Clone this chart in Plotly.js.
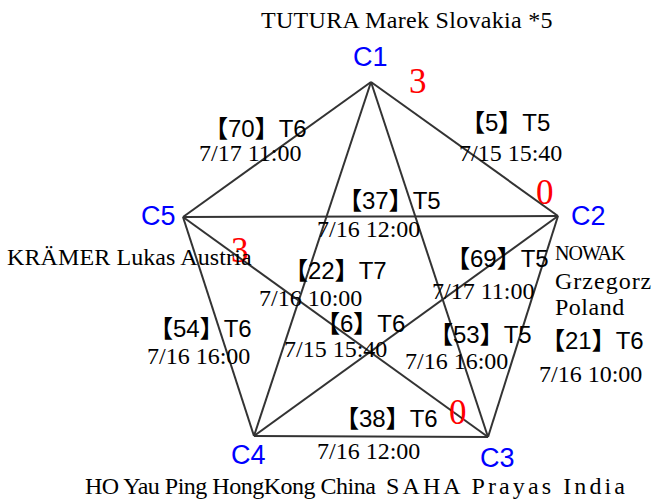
<!DOCTYPE html>
<html>
<head>
<meta charset="utf-8">
<script src="https://cdn.plot.ly/plotly-3.0.1.min.js"></script>
<style>html,body{margin:0;padding:0;background:#fff;}#chart{width:654px;height:500px;}</style>
</head>
<body>
<div id="chart"></div>
<script>
// ---- data ----
var nodeLabels = ["C1", "C2", "C3", "C4", "C5"];
var nodeX = [371, 558, 488, 254, 183];
var nodeY = [82, 216, 437, 436, 217];
var playerNames = ["TUTURA Marek Slovakia *5", "NOWAK\nGrzegorz\nPoland", "SAHA Prayas India", "HO Yau Ping HongKong China", "KRÄMER Lukas Austria"];
var scores = ["3", "0", "0", "", "3"];

var edgeFrom = [0, 0, 4, 0, 1, 4, 4, 0, 1, 3];
var edgeTo   = [4, 1, 1, 3, 3, 2, 3, 2, 2, 2];
var matchNo  = ["70", "5", "37", "22", "69", "6", "54", "53", "21", "38"];
var rounds   = ["T6", "T5", "T5", "T7", "T5", "T6", "T6", "T5", "T6", "T6"];
var times    = ["7/17 11:00", "7/15 15:40", "7/16 12:00", "7/16 10:00", "7/17 11:00", "7/15 15:40", "7/16 16:00", "7/16 16:00", "7/16 10:00", "7/16 12:00"];

// ---- layout positions (pixel-like coordinates of the plot area) ----
var matchPos = [[255,128],[505,122],[389,200],[335,270],[497,258],[360,323],[200,328],[480,334],[592,340],[386,418]];
var timePos  = [[250,153],[510,153],[368,229],[310,298],[483,291],[335,349],[198,356],[456,361],[590,374],[368,451]];
var nodeLabelPos = [[370,57],[588,216],[497,458],[248,455],[158,216]];
var scorePos = [[418,81],[545,192],[458,412],null,[240,250]];
var namePos = [[407,20,"center"],[554,null,"left"],[507,486,"center"],[230,486,"center"],[129,257,"center"]];
var nameSpacing = [[0.3], [-1, 1, 0.5], [3.1], [-0.5], [0.1]];
var nameSize = [[24], [20, 24, 24], [24], [24], [24]];
var multiLineY = [253, 281, 307];

var traces = [];
for (var i = 0; i < edgeFrom.length; i++) {
  traces.push({
    type: "scatter", mode: "lines", hoverinfo: "skip", showlegend: false,
    x: [nodeX[edgeFrom[i]], nodeX[edgeTo[i]]],
    y: [nodeY[edgeFrom[i]], nodeY[edgeTo[i]]],
    line: {color: "#333333", width: 2}
  });
}

var ann = [];
function add(x, y, text, font, xanchor) {
  ann.push({x: x, y: y, xref: "x", yref: "y", text: text, showarrow: false,
            xanchor: xanchor || "center", yanchor: "middle", font: font, borderpad: 0});
}
var fBracket = {family: "Liberation Sans, Arial, Noto Sans CJK SC", size: 24, color: "#000"};
var fSerif = {family: "Liberation Serif, Times New Roman, serif", size: 24, color: "#000"};
var fNode = {family: "Liberation Sans, Arial", size: 27, color: "#0000ff"};
var fScore = {family: "Liberation Serif, serif", size: 35, color: "#ff0000"};

function spaced(t, px) {
  return '<span style="letter-spacing:' + px + 'px">' + t + '</span>';
}
function serif(size) {
  return {family: fSerif.family, size: size, color: "#000"};
}

for (var i = 0; i < matchNo.length; i++) {
  add(matchPos[i][0], matchPos[i][1], "<b>【</b>" + matchNo[i] + "<b>】</b>" + rounds[i], fBracket);
  add(timePos[i][0], timePos[i][1], times[i], fSerif);
}
for (var k = 0; k < nodeLabels.length; k++) {
  add(nodeLabelPos[k][0], nodeLabelPos[k][1], nodeLabels[k], fNode);
  if (scores[k] !== "") add(scorePos[k][0], scorePos[k][1], scores[k], fScore);
  var parts = playerNames[k].split("\n");
  if (parts.length === 1) {
    add(namePos[k][0], namePos[k][1], spaced(parts[0], nameSpacing[k][0]), serif(nameSize[k][0]), namePos[k][2]);
  } else {
    for (var p = 0; p < parts.length; p++)
      add(namePos[k][0], multiLineY[p], spaced(parts[p], nameSpacing[k][p]), serif(nameSize[k][p]), "left");
  }
}

var layout = {
  width: 654, height: 500,
  margin: {l: 0, r: 0, t: 0, b: 0},
  paper_bgcolor: "#ffffff", plot_bgcolor: "#ffffff",
  xaxis: {range: [0, 654], visible: false, fixedrange: true},
  yaxis: {range: [500, 0], visible: false, fixedrange: true},
  annotations: ann,
  showlegend: false
};
Plotly.newPlot("chart", traces, layout, {staticPlot: true, displayModeBar: false});
</script>
</body>
</html>
